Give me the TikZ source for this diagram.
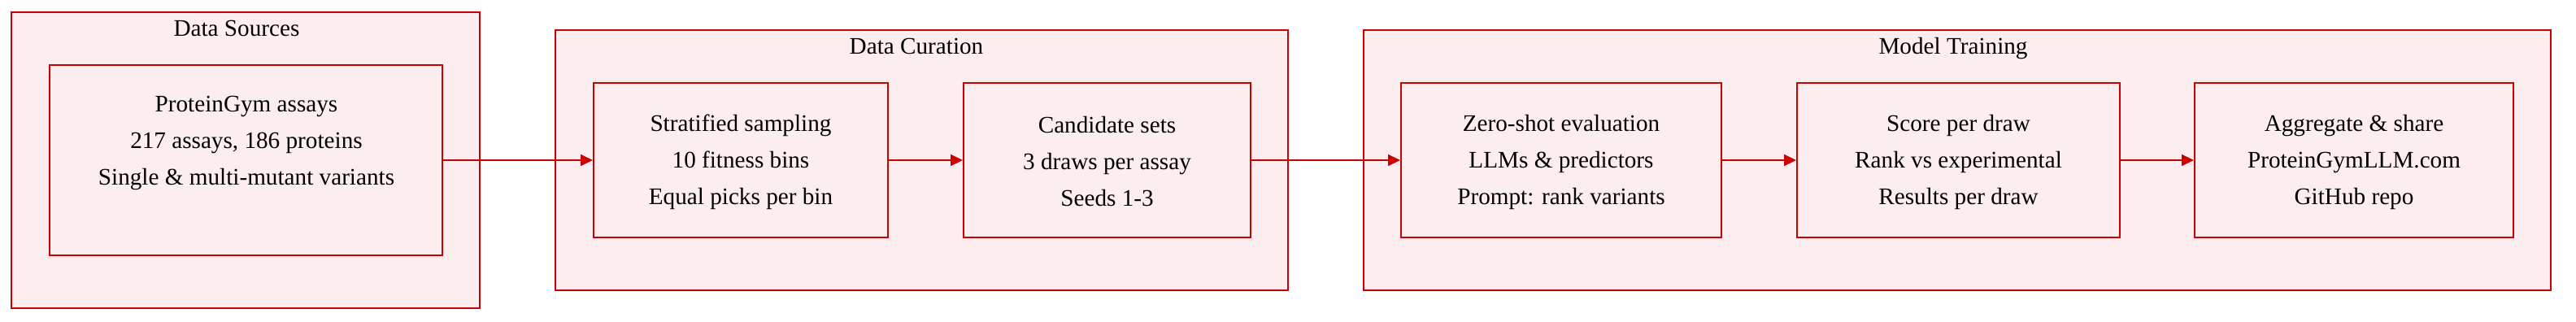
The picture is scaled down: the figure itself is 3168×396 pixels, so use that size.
\documentclass[tikz,border=0pt]{standalone}
\usepackage{fontspec}
\setmainfont{Liberation Serif}
\usetikzlibrary{arrows.meta,fit}
\definecolor{edgered}{RGB}{204,0,0}
\definecolor{boxfill}{RGB}{252,238,238}
\begin{document}
\begin{tikzpicture}[x=0.5pt,y=-0.5pt,
  cluster/.style={draw=edgered,fill=boxfill,line width=1pt,inner sep=0pt},
  stage/.style={draw=edgered,fill=boxfill,line width=1pt,inner sep=0pt},
  ttl/.style={font=\fontsize{14.6pt}{17pt}\selectfont,inner sep=0pt,text height=0.68em,text depth=0.22em},
  txt/.style={align=center,font=\fontsize{14.6pt}{22.5pt}\selectfont,inner sep=0pt},
  arr/.style={draw=edgered,line width=1pt,-{Triangle[length=7.5pt,width=7pt]}}]
\useasboundingbox (0,0) rectangle (3168,396);
% clusters
\node[cluster,fit={(14,15) (590,379)}] (ds) {};
\node[cluster,fit={(683,37) (1584,357)}] (dc) {};
\node[cluster,fit={(1677,37) (3137,357)}] (mt) {};
\node[ttl] (dst) at (291,40) {Data Sources};
\node[ttl] (dct) at (1127,62) {Data Curation};
\node[ttl] (mtt) at (2402,62) {Model Training};
% stages
\node[stage,fit={(61,80) (544,314)}] (pg) {};
\node[txt] (pgt) at (303,176) {ProteinGym assays\\217 assays, 186 proteins\\Single \& multi-mutant variants};
\node[stage,fit={(730,102) (1092,292)}] (ss) {};
\node[txt] at ([yshift=-1pt]ss.center) {Stratified sampling\\10 fitness bins\\Equal picks per bin};
\node[stage,fit={(1185,102) (1538,292)}] (cs) {};
\node[txt] at ([yshift=-1pt]cs.center) {Candidate sets\\3 draws per assay\\Seeds 1-3};
\node[stage,fit={(1723,102) (2117,292)}] (zs) {};
\node[txt] at ([yshift=-1pt]zs.center) {Zero-shot evaluation\\LLMs \& predictors\\Prompt: rank variants};
\node[stage,fit={(2210,102) (2607,292)}] (sc) {};
\node[txt] at ([yshift=-1pt]sc.center) {Score per draw\\Rank vs experimental\\Results per draw};
\node[stage,fit={(2699,102) (3091,292)}] (ag) {};
\node[txt] at ([yshift=-1pt]ag.center) {Aggregate \& share\\ProteinGymLLM.com\\GitHub repo};
% connectors
\draw[arr] (pg.east) -- (ss.west);
\draw[arr] (ss.east) -- (cs.west);
\draw[arr] (cs.east) -- (zs.west);
\draw[arr] (zs.east) -- (sc.west);
\draw[arr] (sc.east) -- (ag.west);
\end{tikzpicture}
\end{document}
